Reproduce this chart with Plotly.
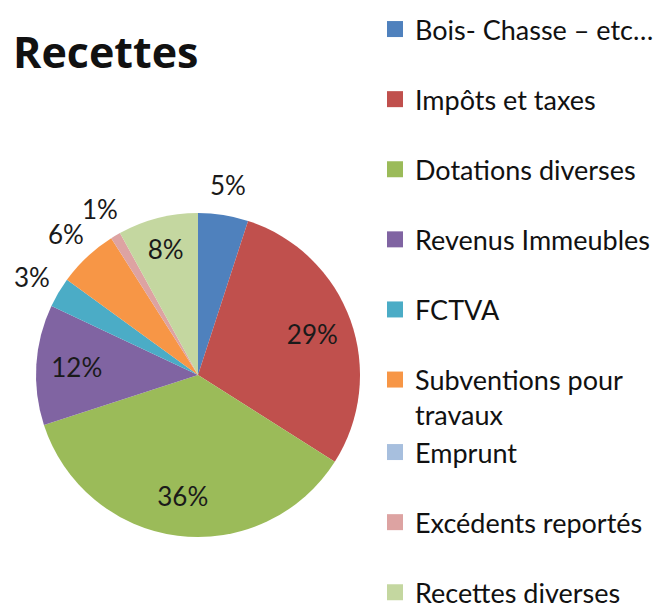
import math
import plotly.graph_objects as go

categories = ["Bois- Chasse – etc…", "Impôts et taxes", "Dotations diverses",
              "Revenus Immeubles", "FCTVA", "Subventions pour<br>travaux",
              "Emprunt", "Excédents reportés", "Recettes diverses"]
values = [5, 29, 36, 12, 3, 6, 0, 1, 8]
colors = ["#4F81BD", "#C0504D", "#9BBB59", "#8064A2", "#4BACC6", "#F79646",
          "#A7BFDE", "#DDA3A2", "#C4D7A0"]
label_place = ["outside", "inside", "inside", "inside", "outside", "outside",
               "none", "outside", "inside"]
legend_ids = ["legend", "legend", "legend", "legend", "legend", "legend",
              "legend2", "legend2", "legend2"]

FONT = "Lato"
W, H = 655, 595
CX, CY, R = 190, 367, 162          # pie centre / radius in figure pixels
pie_domain = dict(x=[(CX - R) / W, (CX + R) / W],
                  y=[(H - CY - R) / H, (H - CY + R) / H])

fig = go.Figure()
# filled pie
fig.add_trace(go.Pie(
    labels=categories, values=values, sort=False, direction="clockwise",
    rotation=0, marker=dict(colors=colors, line=dict(width=0)),
    textinfo="none", showlegend=False, domain=pie_domain,
))
# transparent ring carrying the inside percentage labels
fig.add_trace(go.Pie(
    labels=categories, values=values, sort=False, direction="clockwise",
    rotation=0, hole=0.5,
    marker=dict(colors=["rgba(0,0,0,0)"] * len(values), line=dict(width=0)),
    texttemplate="%{percent:.0%}",
    textposition=["inside" if p == "inside" else "none" for p in label_place],
    insidetextorientation="horizontal",
    textfont=dict(family=FONT, size=26, color="#1a1a1a"),
    showlegend=False, hoverinfo="skip", domain=pie_domain,
))

# outside labels placed at the slice mid-angle, just beyond the rim
total = sum(values)
cum = 0
for v, place in zip(values, label_place):
    mid = 2 * math.pi * (cum + v / 2) / total
    cum += v
    if place != "outside":
        continue
    px = CX + 1.19 * R * math.sin(mid)
    py = CY - 1.19 * R * math.cos(mid)
    fig.add_annotation(x=px / W, y=1 - py / H, xref="paper", yref="paper",
                       text=f"{v / total:.0%}", showarrow=False,
                       xanchor="center", yanchor="middle",
                       font=dict(family=FONT, size=26, color="#1a1a1a"))

for c, col, lg in zip(categories, colors, legend_ids):
    fig.add_trace(go.Scatter(
        x=[None], y=[None], mode="markers", name=c, legendgroup=c, legend=lg,
        marker=dict(symbol="square", size=17, color=col),
    ))

legend_common = dict(xanchor="left", yanchor="top",
                     font=dict(family=FONT, size=27, color="#111111"),
                     tracegroupgap=32, valign="top", itemwidth=30,
                     maxheight=800, bgcolor="rgba(0,0,0,0)")

fig.update_layout(
    width=W, height=H, margin=dict(l=0, r=0, t=0, b=0, autoexpand=False),
    paper_bgcolor="white", plot_bgcolor="white",
    xaxis=dict(visible=False), yaxis=dict(visible=False),
    title=dict(text="<b>Recettes</b>", x=5 / W, xanchor="left",
               y=1 - 45 / H, yanchor="middle",
               font=dict(family="Open Sans", size=43, color="#111111")),
    legend=dict(x=367 / W, y=1 + 3 / H, **legend_common),
    legend2=dict(x=367 / W, y=1 - 420 / H, **legend_common),
)

fig.write_html("out.html")
